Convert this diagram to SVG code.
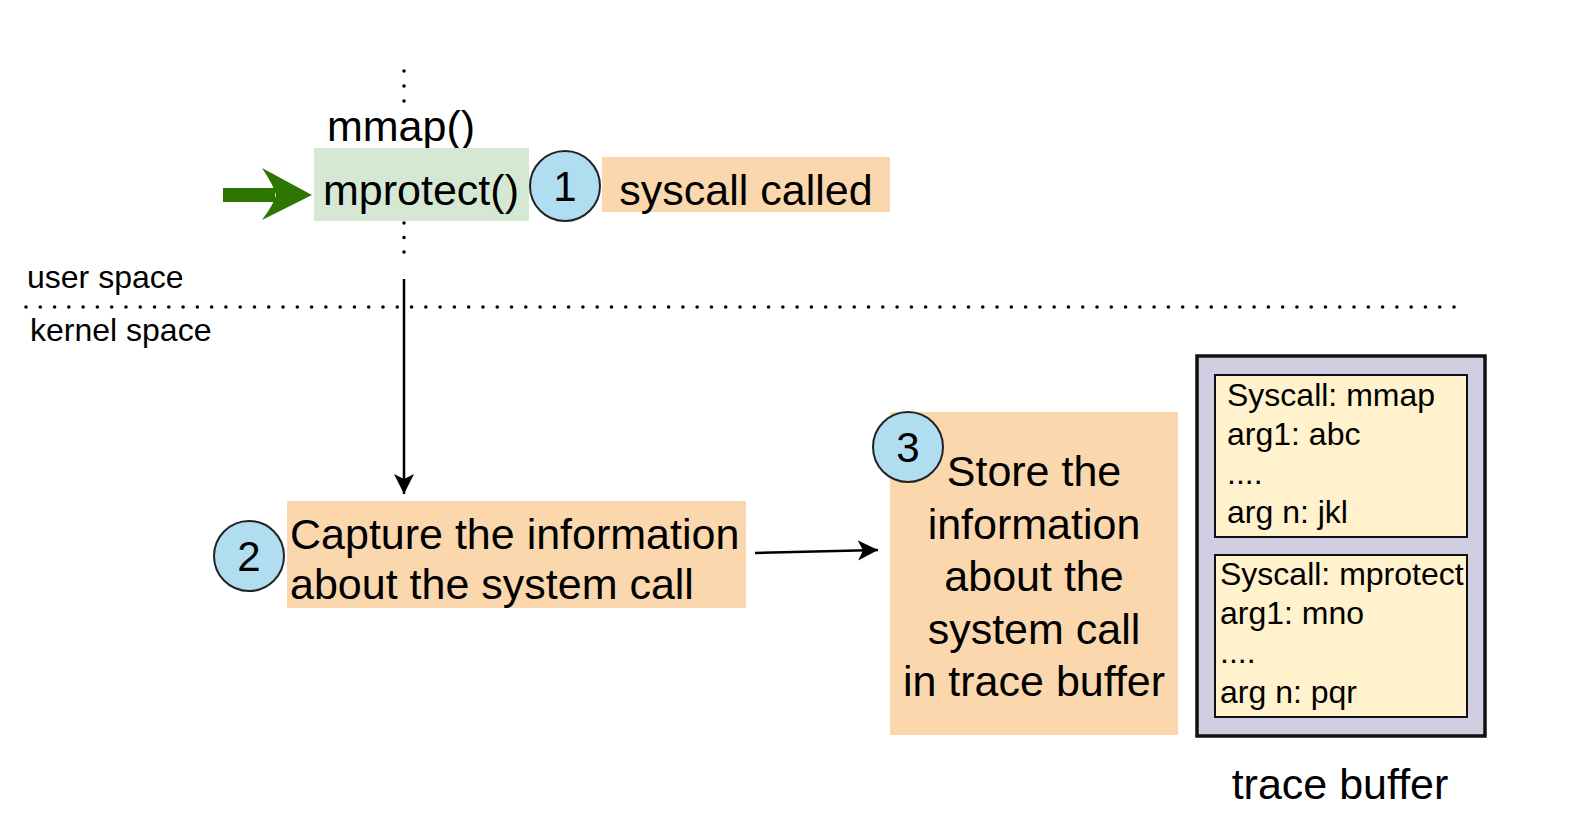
<svg xmlns="http://www.w3.org/2000/svg" width="1582" height="836" viewBox="0 0 1582 836">
<defs>
<style>
text{font-family:"Liberation Sans",Arial,Helvetica,sans-serif;fill:#000}
.big{font-size:43px}
.num{font-size:42px;text-anchor:middle}
.sm{font-size:32px}
.dot{fill:none;stroke:#000;stroke-width:3.6;stroke-linecap:round}
.circ{fill:#b1ddf0;stroke:#222;stroke-width:2}
.orange{fill:#fad7ac;stroke:none}
.edge{fill:none;stroke:#000;stroke-width:2.5}
</style>
<marker id="ah" markerUnits="userSpaceOnUse" markerWidth="22" markerHeight="22" refX="20" refY="10" orient="auto" viewBox="0 0 22 20">
<path d="M0,0 L20,10 L0,20 L5,10 Z" fill="#000"/>
</marker>
</defs>
<rect width="1582" height="836" fill="#fff"/>

<g id="boundary">
<line class="dot" x1="26" y1="307" x2="1454.5" y2="307" stroke-dasharray="0 14.28"/>
<text class="sm" x="27" y="288">user space</text>
<text class="sm" x="30" y="341">kernel space</text>
</g>

<g id="callstack">
<line class="dot" x1="404" y1="71" x2="404" y2="101.5" stroke-dasharray="0 15"/>
<text class="big" x="401" y="141" text-anchor="middle">mmap()</text>
<line class="dot" x1="404" y1="223" x2="404" y2="253.5" stroke-dasharray="0 14.5"/>
</g>

<g id="mprotect">
<rect x="314" y="148" width="215" height="73" fill="#d5e8d4"/>
<text class="big" x="421" y="205" text-anchor="middle">mprotect()</text>
</g>

<g id="step1">
<circle class="circ" cx="565" cy="186" r="35"/>
<text class="num" x="565" y="201">1</text>
</g>

<g id="syscall-called">
<rect class="orange" x="602" y="157" width="288" height="55"/>
<text class="big" x="746" y="205" text-anchor="middle">syscall called</text>
</g>

<g id="capture">
<rect class="orange" x="287" y="501" width="459" height="107"/>
<text class="big" x="290" y="549">Capture the information</text>
<text class="big" x="290" y="599">about the system call</text>
</g>

<g id="step2">
<circle class="circ" cx="249" cy="556" r="35"/>
<text class="num" x="249" y="571">2</text>
</g>

<g id="store">
<rect class="orange" x="890" y="412" width="288" height="323"/>
<text class="big" x="1034" y="486" text-anchor="middle">Store the</text>
<text class="big" x="1034" y="539" text-anchor="middle">information</text>
<text class="big" x="1034" y="591" text-anchor="middle">about the</text>
<text class="big" x="1034" y="644" text-anchor="middle">system call</text>
<text class="big" x="1034" y="696" text-anchor="middle">in trace buffer</text>
</g>

<g id="step3">
<circle class="circ" cx="908" cy="447" r="35"/>
<text class="num" x="908" y="462">3</text>
</g>

<g id="trace-buffer">
<rect x="1197" y="356" width="288" height="380" fill="#d0cee2" stroke="#111" stroke-width="3.5"/>
<rect x="1215" y="375" width="252" height="162" fill="#fff2cc" stroke="#111" stroke-width="2"/>
<text class="sm" x="1227" y="406">Syscall: mmap</text>
<text class="sm" x="1227" y="445">arg1: abc</text>
<text class="sm" x="1227" y="484">....</text>
<text class="sm" x="1227" y="523">arg n: jkl</text>
<rect x="1215" y="555" width="252" height="162" fill="#fff2cc" stroke="#111" stroke-width="2"/>
<text class="sm" x="1220" y="585">Syscall: mprotect</text>
<text class="sm" x="1220" y="624">arg1: mno</text>
<text class="sm" x="1220" y="663">....</text>
<text class="sm" x="1220" y="703">arg n: pqr</text>
<text class="big" x="1340" y="799" text-anchor="middle">trace buffer</text>
</g>

<g id="connectors">
<line x1="223" y1="195" x2="275" y2="195" stroke="#2d7600" stroke-width="14"/>
<path d="M312,195 L262,168 Q274,186 276,195 Q274,204 262,220 Z" fill="#2d7600"/>
<line class="edge" x1="404" y1="279" x2="404" y2="494" marker-end="url(#ah)"/>
<line class="edge" x1="755" y1="553" x2="878" y2="550" marker-end="url(#ah)"/>
</g>
</svg>
